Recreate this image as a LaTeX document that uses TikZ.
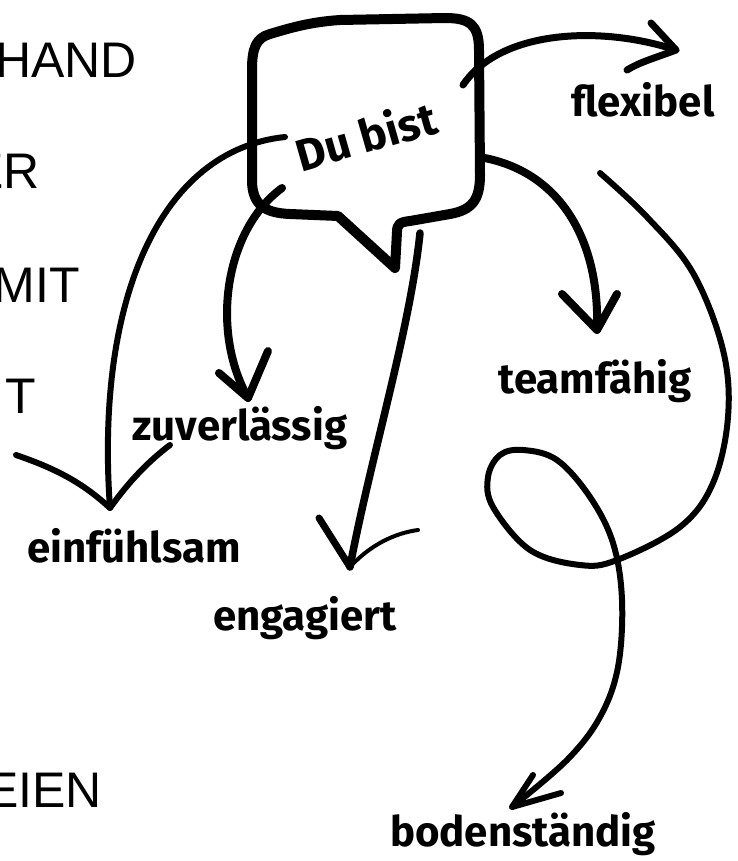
\documentclass[tikz,border=0pt]{standalone}
\usepackage{fontspec}
\setmainfont{Fira Sans}
\newfontfamily\capsfont{Liberation Sans}
\begin{document}
\begin{tikzpicture}[x=1pt,y=-1pt,
  lbl/.style={font=\fontsize{42}{46}\selectfont\bfseries, inner sep=0pt, anchor=base},
  caps/.style={font=\capsfont\fontsize{50}{54}\selectfont, inner sep=0pt, anchor=base east},
  conn/.style={line width=7pt, line cap=round, line join=round},
  bubbleline/.style={line width=10pt, line join=round, line cap=round}]
\useasboundingbox (0,0) rectangle (737,861);
\clip (0,0) rectangle (737,861);
\fill[white] (0,0) rectangle (737,861);

% left cut-off words
\node[caps] (w1) at (137,78) {HAND};
\node[caps] (w2) at (40,188) {ER};
\node[caps] (w3) at (80,302) {MIT};
\node[caps] (w4) at (36,413) {T};
\node[caps] (w5) at (102,807) {EIEN};

% speech bubble
\draw[bubbleline] (252,100) -- (252,180) .. controls (252,205) and (265,213) .. (290,214)
  -- (338,216) -- (395,268) -- (397,232) .. controls (397,224) and (400,222) .. (410,221)
  -- (450,214) .. controls (472,210) and (480,200) .. (480,175) -- (479,50)
  .. controls (479,25) and (470,18) .. (445,18) -- (340,20)
  .. controls (310,22) and (290,28) .. (270,34) .. controls (256,38) and (252,48) .. (252,70) -- cycle;
\node[font=\fontsize{45}{48}\selectfont\bfseries, inner sep=0pt, rotate=16] (du) at (366,135) {Du bist};

% labels
\node[lbl] (flex) at (643,117) {flexibel};
\node[lbl] (team) at (595,393) {teamfähig};
\node[lbl] (zuv) at (240,440) {zuverlässig};
\node[lbl] (ein) at (134,562) {einfühlsam};
\node[lbl] (eng) at (305,630) {engagiert};
\node[lbl] (bod) at (523,846) {bodenständig};

% connector start / tip coordinates
\coordinate (s1) at (463,85);  \coordinate (t1) at (676,50);
\coordinate (s2) at (479,157); \coordinate (t2) at (597,330);
\coordinate (s3) at (282,188); \coordinate (t3) at (248,398);
\coordinate (s4) at (285,137); \coordinate (t4) at (110,508);
\coordinate (s5) at (420,233); \coordinate (t5) at (350,567);
\coordinate (s6) at (600,173); \coordinate (t6) at (512,807);

% to flexibel
\draw[conn] (s1) .. controls (500,30) and (600,25) .. (t1);
\draw[conn] (651,23) -- (t1) .. controls (655,58) and (640,62) .. (627,70);
% to teamfaehig
\draw[conn, line width=8pt] (s2) .. controls (560,170) and (600,240) .. (t2);
\draw[conn, line width=8pt] (562,294) -- (t2) -- (617,294);
% to zuverlaessig
\draw[conn, line width=8pt] (s3) .. controls (225,230) and (210,330) .. (t3);
\draw[conn, line width=8pt] (219,373) -- (t3) -- (268,351);
% to einfuehlsam
\draw[conn, line width=6pt] (s4) .. controls (160,150) and (95,300) .. (t4);
\draw[conn, line width=6pt] (16,455) .. controls (60,470) and (85,485) .. (t4) .. controls (130,480) and (150,460) .. (170,445);
% to engagiert
\draw[conn, line width=7.5pt] (s5) .. controls (410,330) and (370,460) .. (t5);
\draw[conn, line width=7pt] (319,518) -- (t5);
\draw[conn, line width=4pt] (t5) .. controls (370,545) and (395,533) .. (418,530);
% loop to bodenstaendig
\draw[conn, line width=6pt] plot[smooth, tension=0.6] coordinates {(s6) (647,217) (693,273) (723,350)
  (728,417) (713,483) (680,527) (617,560) (580,565) (530,550) (493,507) (488,477) (500,455)
  (523,450) (557,460) (590,497) (613,543) (622,600) (618,667) (600,717) (567,760) (t6)};
\draw[conn, line width=6pt] (533,775) -- (t6) -- (561,793);
\end{tikzpicture}
\end{document}
